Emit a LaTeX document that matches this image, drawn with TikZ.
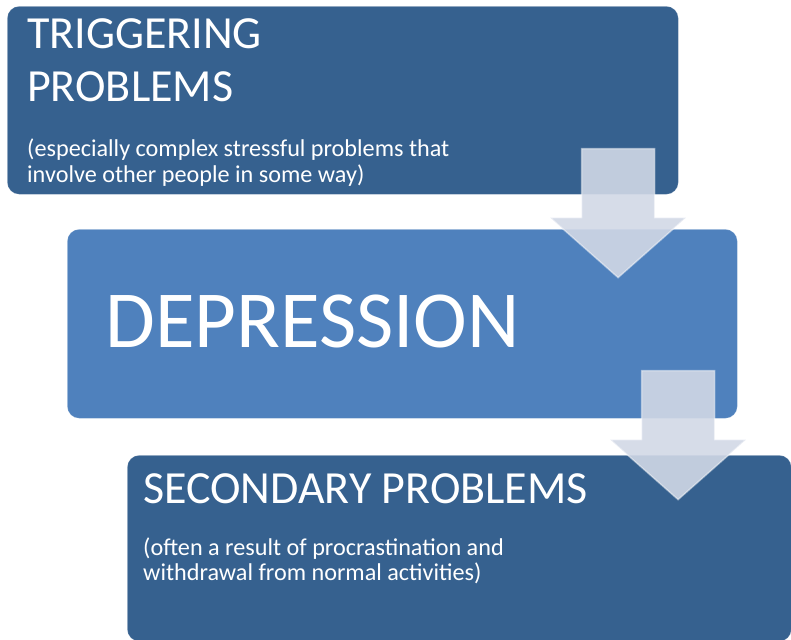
\documentclass[tikz,border=0pt]{standalone}
\usepackage{fontspec}
\setmainfont{Carlito}
\usetikzlibrary{calc}
\definecolor{darkbox}{HTML}{36618F}
\definecolor{lightbox}{HTML}{4F81BD}
\definecolor{arrowfill}{RGB}{209,216,230}
\def\blockarrow(#1){\draw[flowarrow] ($(#1)+(-36.5,0)$) -- ++(0,69) -- ++(-31.5,0) -- ++(68,60) -- ++(68,-60) -- ++(-31.5,0) -- ++(0,-69) -- cycle;}

\begin{document}
\begin{tikzpicture}[x=1pt,y=-1pt,
		box/.style={rounded corners=12pt, anchor=north west, inner sep=0pt, draw=white, draw opacity=0.25, line width=0.6pt},
		head/.style={text=white, font=\fontsize{46}{53}\selectfont, align=left, inner sep=0pt, anchor=base west},
		note/.style={text=white, font=\fontsize{24.2}{25}\selectfont, align=left, inner sep=0pt, anchor=base west},
		flowarrow/.style={fill=arrowfill, fill opacity=0.9, draw=white, draw opacity=0.45, line width=1.5pt, line join=miter}]
		%%%%% START %%%%%
		\useasboundingbox (0, 0) rectangle (791, 639);
		
		% the three boxes
		\node[box, fill=darkbox, minimum width=671pt, minimum height=188pt] (trig) at (7, 6) {};
		\node[box, fill=lightbox, minimum width=670pt, minimum height=189pt] (dep) at (67, 229) {};
		\node[box, fill=darkbox, minimum width=664pt, minimum height=186pt] (sec) at (127, 455) {};
		
		% texts (base is the last line)
		\node[head] (trigtitle) at ($(trig.north west)+(20, 96)$) {TRIGGERING\\PROBLEMS};
		\node[note] (trignote) at ($(trig.north west)+(20, 176)$) {(especially complex stressful problems that\\involve other people in some way)};
		
		\node[head, font=\fontsize{81}{90}\selectfont] (deptitle) at ($(dep.north west)+(38, 118)$) {DEPRESSION};
		
		\node[head] (sectitle) at ($(sec.north west)+(16, 48)$) {SECONDARY PROBLEMS};
		\node[note] (secnote) at ($(sec.north west)+(16, 125)$) {(often a result of procrastination and\\withdrawal from normal activities)};
		
		% arrows between the boxes
		\coordinate (arrowa) at ($(trig.south east)+(-60.5, -46)$);
		\coordinate (arrowb) at ($(dep.south east)+(-59.5, -48)$);
		\blockarrow(arrowa)
		\blockarrow(arrowb)
		
		%%%%% END %%%%%
	\end{tikzpicture}
\end{document}
